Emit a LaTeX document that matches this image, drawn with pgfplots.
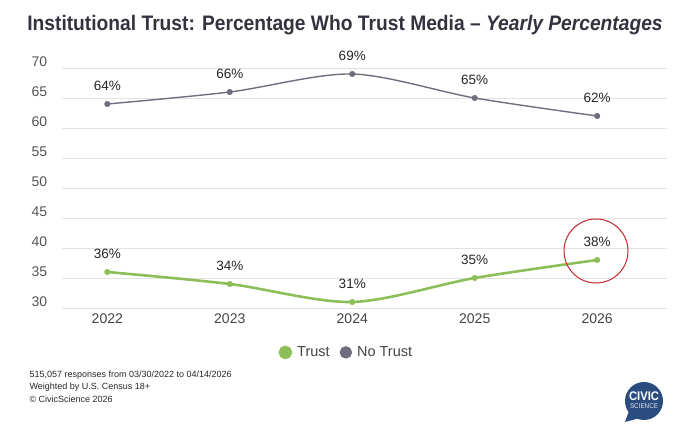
\documentclass[border=0pt]{standalone}
\usepackage{pgfplots}
\pgfplotsset{compat=1.18}
\usepackage{fontspec}
\setmainfont{Liberation Sans}
\definecolor{trustgreen}{HTML}{8CBF5A}
\definecolor{notrust}{HTML}{6E6E7E}
\definecolor{titlecol}{HTML}{333340}
\definecolor{gridcol}{HTML}{E3E3E3}
\definecolor{ticklab}{HTML}{555555}
\definecolor{logoblue}{HTML}{2B4C7E}
\definecolor{redcirc}{HTML}{C0282D}
\begin{document}
\begin{tikzpicture}[x=1pt,y=1pt]
\path[use as bounding box] (0,0) rectangle (680,427);
\node[text=titlecol,font=\fontsize{21}{24}\selectfont\bfseries] at (345,402)
  {\scalebox{0.915}[1]{Institutional Trust: Percentage Who Trust Media -- \textit{Yearly Percentages}}};
\begin{axis}[
  at={(62pt,119pt)}, anchor=south west,
  scale only axis, width=605pt, height=240pt,
  xmin=-0.37, xmax=4.57, ymin=30, ymax=70,
  xtick={0,1,2,3,4}, xticklabels={2022,2023,2024,2025,2026},
  ytick={30,35,...,70},
  /pgf/number format/assume math mode=true,
  ymajorgrids, grid style={gridcol, line width=0.8pt},
  axis line style={draw=none},
  major tick length=0pt,
  tick label style={font=\fontsize{14}{16}\selectfont},
  xticklabel style={text=ticklab!80!black, yshift=-2pt},
  yticklabel style={anchor=south west, xshift=-34pt, yshift=-2pt, text=ticklab},
  clip=false,
  legend columns=2,
  legend style={at={(axis description cs:0.47,-0.185)}, anchor=center, draw=none,
    font=\fontsize{14.5}{16}\selectfont, text=ticklab!80!black,
    /tikz/every even column/.append style={column sep=8pt},
    /tikz/every odd column/.append style={column sep=3pt}},
  legend image code/.code={\fill[#1] (0pt,0pt) circle (5.5pt);},
  every node near coord/.append style={font=\fontsize{13.5}{16}\selectfont, text=black!85, yshift=10pt},
  point meta=y,
]
\addplot[trustgreen, line width=2.6pt, smooth, tension=0.5, no marks] coordinates {
  (0,36) (1,34) (2,31) (3,35) (4,38)};
\addlegendentry{Trust}
\addplot[notrust, line width=1.4pt, smooth, tension=0.5, no marks] coordinates {
  (0,64) (1,66) (2,69) (3,65) (4,62)};
\addlegendentry{No Trust}
\addplot[trustgreen, only marks, mark=*, mark size=2.8pt, mark options={solid, fill=trustgreen, draw=trustgreen, line width=0.4pt},
  nodes near coords={\pgfmathprintnumber{\pgfplotspointmeta}\%}] coordinates {
  (0,36) (1,34) (2,31) (3,35) (4,38)};
\addplot[notrust, only marks, mark=*, mark size=2.8pt, mark options={solid, fill=notrust, draw=notrust, line width=0.4pt},
  nodes near coords={\pgfmathprintnumber{\pgfplotspointmeta}\%}] coordinates {
  (0,64) (1,66) (2,69) (3,65) (4,62)};
\end{axis}
\draw[redcirc, line width=1pt] (596,176) circle (32);
\node[anchor=west, font=\fontsize{9}{11}\selectfont, text=black!85] at (26,52) {515,057 responses from 03/30/2022 to 04/14/2026};
\node[anchor=west, font=\fontsize{9}{11}\selectfont, text=black!85] at (26,40) {Weighted by U.S. Census 18+};
\node[anchor=west, font=\fontsize{9}{11}\selectfont, text=black!85] at (26,28) {\textcopyright{} CivicScience 2026};
\fill[logoblue] (644,26) circle (19);
\fill[logoblue] (629,16) -- (625,5) -- (640,9) -- cycle;
\node[text=white, font=\fontsize{12.5}{13}\selectfont\bfseries] at (644,31) {\scalebox{0.9}[1]{CIVIC}};
\node[text=white!85!logoblue, font=\fontsize{7}{8}\selectfont] at (644,21) {\scalebox{0.9}[1]{SCIENCE}};
\end{tikzpicture}
\end{document}
